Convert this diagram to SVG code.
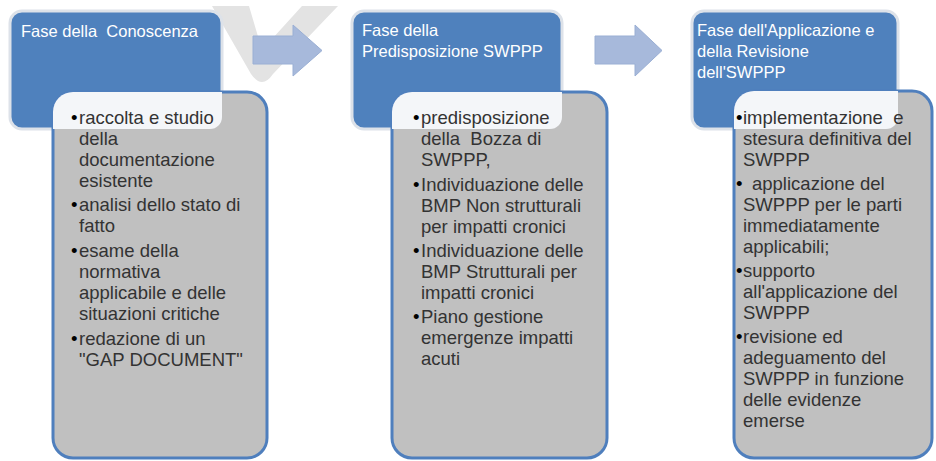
<svg xmlns="http://www.w3.org/2000/svg" width="936" height="461" viewBox="0 0 936 461">
<style>
.head{fill:#4f81bd;stroke:#dde2e9;stroke-width:3}
.body{fill:#c0c0c0;stroke:#4f7fbd;stroke-width:3}
.gloss{fill:#f4f6f9}
.title{font-family:"Liberation Sans",Arial,sans-serif;font-size:16.5px;fill:#ffffff}
.txt{font-family:"Liberation Sans",Arial,sans-serif;font-size:18.5px;fill:#333333}
.bul{fill:#000000}
.arrow{fill:#a7b9db;stroke:#9aafd4;stroke-width:1}
</style>
<defs>
<clipPath id="c1"><rect x="10" y="11" width="212" height="118" rx="12"/></clipPath>
<clipPath id="c2"><rect x="352" y="11" width="210" height="118" rx="12"/></clipPath>
<clipPath id="c3"><rect x="692" y="11" width="206" height="118" rx="12"/></clipPath>
</defs>
<rect width="936" height="461" fill="#ffffff"/>
<path d="M212,6 L251,74 Q262,90 273,74 L338,6 L302,6 L262,50 L249,6 Z" fill="#e3e3e3"/>
<g id="node1">
<rect class="head" x="10" y="11" width="212" height="118" rx="12"/>
<text class="title" x="21" y="37">Fase della&#160; Conoscenza</text>
<rect class="body" x="53" y="92" width="214" height="366" rx="20"/>
<rect class="gloss" x="53" y="92" width="214" height="366" rx="20" clip-path="url(#c1)"/>
<text class="txt">
<tspan class="bul" x="71" y="124">•</tspan><tspan x="79" y="124">raccolta e studio</tspan>
<tspan x="79" y="145">della</tspan>
<tspan x="79" y="166">documentazione</tspan>
<tspan x="79" y="187">esistente</tspan>
<tspan class="bul" x="71" y="211">•</tspan><tspan x="79" y="211">analisi dello stato di</tspan>
<tspan x="79" y="232">fatto</tspan>
<tspan class="bul" x="71" y="257">•</tspan><tspan x="79" y="257">esame della</tspan>
<tspan x="79" y="278">normativa</tspan>
<tspan x="79" y="299">applicabile e delle</tspan>
<tspan x="79" y="320">situazioni critiche</tspan>
<tspan class="bul" x="71" y="345">•</tspan><tspan x="79" y="345">redazione di un</tspan>
<tspan x="79" y="366">"GAP DOCUMENT"</tspan>
</text>
</g>
<g id="node2">
<rect class="head" x="352" y="11" width="210" height="118" rx="12"/>
<text class="title"><tspan x="362" y="36">Fase della</tspan><tspan x="362" y="57">Predisposizione SWPPP</tspan></text>
<rect class="body" x="392" y="92" width="215" height="366" rx="20"/>
<rect class="gloss" x="392" y="92" width="215" height="366" rx="20" clip-path="url(#c2)"/>
<text class="txt">
<tspan class="bul" x="413" y="124">•</tspan><tspan x="421" y="124">predisposizione</tspan>
<tspan x="421" y="145">della&#160; Bozza di</tspan>
<tspan x="421" y="166">SWPPP,</tspan>
<tspan class="bul" x="413" y="191">•</tspan><tspan x="421" y="191">Individuazione delle</tspan>
<tspan x="421" y="212">BMP Non strutturali</tspan>
<tspan x="421" y="233">per impatti cronici</tspan>
<tspan class="bul" x="413" y="257">•</tspan><tspan x="421" y="257">Individuazione delle</tspan>
<tspan x="421" y="278">BMP Strutturali per</tspan>
<tspan x="421" y="299">impatti cronici</tspan>
<tspan class="bul" x="413" y="323">•</tspan><tspan x="421" y="323">Piano gestione</tspan>
<tspan x="421" y="344">emergenze impatti</tspan>
<tspan x="421" y="365">acuti</tspan>
</text>
</g>
<g id="node3">
<rect class="head" x="692" y="11" width="206" height="118" rx="12"/>
<text class="title"><tspan x="697" y="36">Fase dell'Applicazione e</tspan><tspan x="697" y="57">della Revisione</tspan><tspan x="697" y="78">dell'SWPPP</tspan></text>
<rect class="body" x="734" y="91" width="198" height="367" rx="20"/>
<rect class="gloss" x="734" y="91" width="198" height="367" rx="20" clip-path="url(#c3)"/>
<text class="txt">
<tspan class="bul" x="736" y="124">•</tspan><tspan x="743" y="124">implementazione&#160; e</tspan>
<tspan x="743" y="145">stesura definitiva del</tspan>
<tspan x="743" y="166">SWPPP</tspan>
<tspan class="bul" x="736" y="190">•</tspan><tspan x="752" y="190">applicazione del</tspan>
<tspan x="743" y="211">SWPPP per le parti</tspan>
<tspan x="743" y="232">immediatamente</tspan>
<tspan x="743" y="253">applicabili;</tspan>
<tspan class="bul" x="736" y="277">•</tspan><tspan x="743" y="277">supporto</tspan>
<tspan x="743" y="298">all'applicazione del</tspan>
<tspan x="743" y="319">SWPPP</tspan>
<tspan class="bul" x="736" y="343">•</tspan><tspan x="743" y="343">revisione ed</tspan>
<tspan x="743" y="364">adeguamento del</tspan>
<tspan x="743" y="385">SWPPP in funzione</tspan>
<tspan x="743" y="406">delle evidenze</tspan>
<tspan x="743" y="427">emerse</tspan>
</text>
</g>
<g id="connectors">
<path class="arrow" d="M253,36 L293,36 L293,25 L322,50.5 L293,76 L293,64 L253,64 Z"/>
<path class="arrow" d="M595,36 L635,36 L635,25 L662,50.5 L635,76 L635,64 L595,64 Z"/>
</g>
</svg>
